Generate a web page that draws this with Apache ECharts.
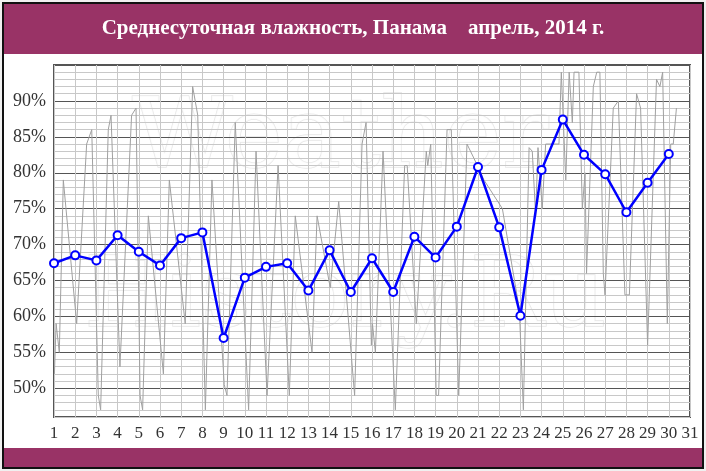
<!DOCTYPE html>
<html lang="ru">
<head>
    <meta charset="utf-8">
    <title>Среднесуточная влажность, Панама, апрель 2014</title>
    <style type="text/css">
        html, body { margin: 0; padding: 0; background: #f0f0f0; }
        .frame { position: absolute; left: 2px; top: 2px; width: 698px; height: 463px; border: 2px solid #111; background: #fff; }
        .frame .top { position: absolute; left: 0; top: 0; width: 100%; height: 50px; background: #993366; }
        .frame .bottom { position: absolute; left: 0; bottom: 0; width: 100%; height: 19px; background: #993366; }
        #chart { position: absolute; left: 0; top: 0; width: 706px; height: 471px; }
    </style>
</head>
<body>

<div class="frame"><div class="top"></div><div class="bottom"></div></div>
<div id="chart"></div>

<script src="https://cdn.jsdelivr.net/npm/echarts@6/dist/echarts.min.js"></script>
<script>
    // дни месяца (подписи оси X)
    var days = [];
    for (var d = 1; d <= 31; d++) days.push(d);

    // среднесуточная влажность, %
    var dailyHumidity = [67.4, 68.5, 67.8, 71.3, 69.0, 67.1, 70.9, 71.7, 57.0, 65.4,
        66.9, 67.4, 63.6, 69.2, 63.4, 68.1, 63.4, 71.1, 68.2, 72.5,
        80.8, 72.4, 60.1, 80.4, 87.4, 82.5, 79.8, 74.5, 78.6, 82.6];

    // срочные наблюдения: момент (в днях) и влажность, %
    var obsTime = [1.02, 1.10, 1.25, 1.44, 2.07, 2.54, 2.78, 3.09, 3.20, 3.56,
        3.69, 4.11, 4.19, 4.66, 4.87, 5.06, 5.18, 5.45, 6.16, 6.44,
        7.19, 7.54, 7.78, 8.14, 8.45, 9.03, 9.16, 9.55, 10.18, 10.53,
        11.05, 11.57, 12.10, 12.38, 13.17, 13.41, 14.03, 14.43, 15.18, 15.53,
        15.72, 15.97, 16.02, 16.16, 16.52, 17.10, 17.54, 17.66, 18.09, 18.56,
        18.63, 18.77, 19.03, 19.14, 19.54, 19.74, 20.09, 20.48, 20.81, 21.28,
        22.15, 22.95, 23.14, 23.41, 23.56, 23.72, 23.83, 24.03, 24.19, 24.82,
        24.93, 25.14, 25.30, 25.45, 25.53, 25.76, 25.92, 26.05, 26.12, 26.44,
        26.60, 26.75, 26.91, 26.99, 27.38, 27.62, 27.93, 28.14, 28.48, 28.67,
        29.00, 29.42, 29.58, 29.71, 29.93, 30.09, 30.21, 30.36];
    var obsHumidity = [52, 59, 55, 79, 59, 84, 86, 49, 47, 86,
        88, 53, 53, 88, 89, 49, 47, 74, 52, 79,
        59, 92, 88, 47, 79, 50.5, 49, 87, 47, 83,
        49, 81, 49, 74, 55, 74, 64, 76, 49, 84,
        87, 56, 59, 55, 83, 47, 81, 81, 59, 83,
        81, 84, 49, 49, 86, 86, 49, 84, 82, 79,
        75, 61, 47, 83.5, 83, 74, 83.5, 75, 84, 84,
        94, 79, 94, 87, 94, 94, 75, 80, 66, 92,
        94, 94, 66, 63, 89, 90, 63, 63, 91, 89,
        56, 93, 92, 94, 59, 84, 84, 89];

    // подписи оси Y
    var yTicks = [50, 55, 60, 65, 70, 75, 80, 85, 90];

    (function () {
        var chart = echarts.init(document.getElementById('chart'));
        var labelFont = 'Liberation Serif';

        var dailyData = dailyHumidity.map(function (v, i) {
            return [days[i], v];
        });
        var obsData = obsTime.map(function (t, i) {
            return [t, obsHumidity[i]];
        });

        // стиль водяного знака
        function markStyle(text) {
            return {
                text: text,
                font: '98px "DejaVu Serif"',
                verticalAlign: 'middle',
                fill: 'rgba(255,255,255,0.85)',
                stroke: 'rgba(215,215,215,0.6)',
                lineWidth: 1.5,
                shadowColor: 'rgba(0,0,0,0.12)',
                shadowBlur: 3,
                shadowOffsetX: 1,
                shadowOffsetY: 2
            };
        }

        var option = {
            animation: false,
            title: {
                text: 'Среднесуточная влажность, Панама    апрель, 2014 г.',
                left: 'center',
                top: 18,
                padding: 0,
                textStyle: {
                    color: '#fff',
                    fontFamily: labelFont,
                    fontWeight: 'bold',
                    fontSize: 21
                }
            },
            graphic: {
                z: 1,
                elements: [
                    {type: 'text', x: 132, y: 142, style: markStyle('Weather')},
                    {type: 'text', x: 84, y: 301, style: markStyle('History.Ru')}
                ]
            },
            grid: {
                left: 54,
                right: 16,
                top: 65,
                bottom: 54,
                show: true,
                borderColor: '#555',
                borderWidth: 2
            },
            xAxis: {
                type: 'value',
                min: 1,
                max: 31,
                interval: 1,
                axisLine: {show: false},
                axisTick: {show: false},
                axisLabel: {
                    margin: 8,
                    color: '#333',
                    fontFamily: labelFont,
                    fontSize: 17,
                    showMinLabel: true,
                    showMaxLabel: true
                },
                splitLine: {lineStyle: {color: '#c8c8c8', width: 1}}
            },
            yAxis: {
                type: 'value',
                min: 46,
                max: 95,
                interval: 1,
                axisLine: {show: false},
                axisTick: {show: false},
                axisLabel: {
                    margin: 8,
                    color: '#333',
                    fontFamily: labelFont,
                    fontSize: 18,
                    formatter: function (v) {
                        return yTicks.indexOf(v) >= 0 ? v + '%' : '';
                    }
                },
                splitLine: {
                    lineStyle: {
                        // каждая пятая линия (кратная 5%) тёмная
                        color: ['#c8c8c8', '#c8c8c8', '#c8c8c8', '#c8c8c8', '#555'],
                        width: 1
                    }
                }
            },
            series: [
                {
                    type: 'line',
                    data: obsData,
                    z: 2,
                    showSymbol: false,
                    silent: true,
                    lineStyle: {color: '#a0a0a0', width: 1}
                },
                {
                    type: 'line',
                    data: dailyData,
                    z: 3,
                    symbol: 'emptyCircle',
                    symbolSize: 8,
                    lineStyle: {color: '#0000ff', width: 2.5},
                    itemStyle: {color: '#0000ff', borderWidth: 2}
                }
            ]
        };
        chart.setOption(option);
    })();
</script>
</body>
</html>
